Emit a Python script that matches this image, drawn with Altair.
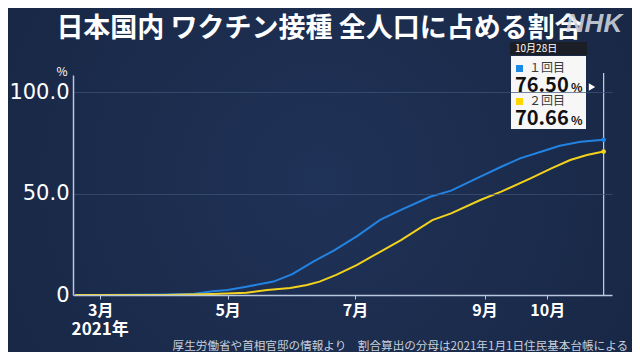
import altair as alt
import pandas as pd

# ---------------- data ----------------
series_names = ["1回目", "2回目"]
series_colors = ["#2383e2", "#f2d21c"]
square_colors = ["#1e88e5", "#ffd600"]

dates_dose1 = ["2021-02-17", "2021-03-01", "2021-04-01", "2021-04-15", "2021-04-24",
               "2021-05-01", "2021-05-10", "2021-05-23", "2021-06-01", "2021-06-11",
               "2021-06-21", "2021-07-02", "2021-07-13", "2021-07-23", "2021-08-06",
               "2021-08-16", "2021-08-30", "2021-09-09", "2021-09-18", "2021-09-28",
               "2021-10-07", "2021-10-17", "2021-10-28"]
values_dose1 = [0.0, 0.05, 0.3, 0.6, 1.8,
                2.5, 4.1, 6.6, 10.3, 16.4,
                22.0, 29.0, 37.0, 41.9, 48.4,
                51.4, 58.3, 63.2, 67.3, 70.6,
                73.5, 75.5, 76.50]

dates_dose2 = ["2021-02-17", "2021-03-01", "2021-04-01", "2021-04-24", "2021-05-10",
               "2021-05-20", "2021-05-31", "2021-06-08", "2021-06-14", "2021-06-22",
               "2021-07-02", "2021-07-13", "2021-07-23", "2021-08-07", "2021-08-16",
               "2021-08-30", "2021-09-09", "2021-09-23", "2021-10-03", "2021-10-12",
               "2021-10-20", "2021-10-28"]
values_dose2 = [0.0, 0.0, 0.05, 0.5, 1.1,
                2.5, 3.4, 4.9, 6.6, 9.9,
                14.8, 21.3, 27.0, 36.9, 40.2,
                46.8, 50.9, 57.5, 62.4, 66.5,
                69.0, 70.66]

tick_dates = [(2021, 3, 1), (2021, 5, 1), (2021, 7, 1), (2021, 9, 1), (2021, 10, 1)]
y_ticks = [0, 50, 100]
last_date = "2021-10-28"
last_label = "10月28日"
title_text = "日本国内 ワクチン接種 全人口に占める割合"
source_text = "厚生労働省や首相官邸の情報より　割合算出の分母は2021年1月1日住民基本台帳による"
year_label = "2021年"

FONT = "Noto Sans CJK JP"

# ---------------- tables ----------------
df = pd.concat([
    pd.DataFrame({"date": dates_dose1, "value": values_dose1, "series": series_names[0]}),
    pd.DataFrame({"date": dates_dose2, "value": values_dose2, "series": series_names[1]}),
])
last_df = pd.DataFrame({"date": [last_date, last_date],
                        "value": [values_dose1[-1], values_dose2[-1]],
                        "series": series_names})
one = pd.DataFrame({"a": [0]})

x_scale = alt.Scale(type="utc",
                    domain=[alt.DateTime(year=2021, month=2, date=16, utc=True),
                            alt.DateTime(year=2021, month=11, date=1, utc=True)])
y_scale = alt.Scale(domain=[0, 108.4], nice=False, zero=True)
color_scale = alt.Scale(domain=series_names, range=series_colors)

W, H = 539, 220

# background gradient covering the whole canvas
bg = alt.Chart(one).mark_rect(
    fill=alt.Gradient(gradient="radial",
                      stops=[alt.GradientStop(color="#1f3257", offset=0),
                             alt.GradientStop(color="#16233e", offset=1)],
                      x1=0.5, y1=0.5, x2=0.5, y2=0.5, r1=0, r2=0.8)
).encode(x=alt.value(-65), x2=alt.value(559), y=alt.value(-67), y2=alt.value(277))

lines = alt.Chart(df).mark_line(strokeWidth=2).encode(
    x=alt.X("date:T", scale=x_scale,
            axis=alt.Axis(values=[alt.DateTime(year=y, month=m, date=d, utc=True) for y, m, d in tick_dates],
                          labelExpr="(utcmonth(datum.value)+1) + '月'",
                          title=None, grid=False, labelFont=FONT, labelFontWeight="bold",
                          labelFontSize=16, labelColor="white", labelPadding=3,
                          domainColor="#b9c7dd", domainWidth=1.5,
                          tickColor="#b9c7dd", tickSize=4, zindex=1)),
    y=alt.Y("value:Q", scale=y_scale,
            axis=alt.Axis(values=y_ticks,
                          labelExpr="datum.value == 0 ? '0' : format(datum.value, '.1f')",
                          title=None, grid=True, gridColor="#3d5479", gridOpacity=0.7,
                          labelFont="DejaVu Sans", labelFontSize=21, labelColor="white",
                          labelPadding=4, ticks=False,
                          domainColor="#b9c7dd", domainWidth=1.5, zindex=1)),
    color=alt.Color("series:N", scale=color_scale, legend=None),
    detail="series:N",
)

cursor = alt.Chart(last_df.iloc[:1]).mark_rule(color="#c4d3ea", strokeWidth=1.2).encode(
    x=alt.X("date:T", scale=x_scale), y=alt.value(-2), y2=alt.value(H))

dots = alt.Chart(last_df).mark_circle(size=22, opacity=1).encode(
    x=alt.X("date:T", scale=x_scale), y=alt.Y("value:Q", scale=y_scale),
    color=alt.Color("series:N", scale=color_scale, legend=None))

# tooltip box
header = alt.Chart(one).mark_rect(fill="#1b1d22", opacity=0.92).encode(
    x=alt.value(437), x2=alt.value(514), y=alt.value(-33), y2=alt.value(-20))
box = alt.Chart(one).mark_rect(fill="#f7f7f7").encode(
    x=alt.value(438), x2=alt.value(513), y=alt.value(-19), y2=alt.value(54))
sq_df = pd.DataFrame({"series": series_names, "yy": [-10, 23], "c": square_colors})
squares = alt.Chart(sq_df).mark_rect().encode(
    x=alt.value(443), x2=alt.value(450), y=alt.Y("yy:Q", scale=None), y2=alt.Y2("y2:Q"),
    fill=alt.Fill("c:N", scale=None)).transform_calculate(y2="datum.yy + 7")
header_text = alt.Chart(one).mark_text(text=last_label, font=FONT, fontSize=10, color="white",
                                       align="left", baseline="middle").encode(
    x=alt.value(442), y=alt.value(-26))
lab_df = pd.DataFrame({"t": ["１回目", "２回目"], "yy": [-7.5, 25.5]})
labels = alt.Chart(lab_df).mark_text(font=FONT, fontSize=12, color="#3a3a3a",
                                     align="left", baseline="middle").encode(
    x=alt.value(456), y=alt.Y("yy:Q", scale=None), text="t:N")
num_df = pd.DataFrame({"t": [f"{values_dose1[-1]:.2f}", f"{values_dose2[-1]:.2f}"], "yy": [17, 50]})
nums = alt.Chart(num_df).mark_text(font=FONT, fontSize=20, fontWeight="bold", color="#111111",
                                   align="left", baseline="alphabetic").encode(
    x=alt.value(442), y=alt.Y("yy:Q", scale=None), text="t:N")
pct = alt.Chart(num_df).mark_text(text="%", font=FONT, fontSize=12, fontWeight="bold",
                                  color="#111111", align="left", baseline="alphabetic").encode(
    x=alt.value(498), y=alt.Y("yy:Q", scale=None))
tri = alt.Chart(one).mark_point(shape="triangle-right", filled=True, color="white",
                                size=55, opacity=1).encode(x=alt.value(519), y=alt.value(12))

# texts
title = alt.Chart(one).mark_text(text=title_text, font=FONT, fontSize=27, fontWeight="bold",
                                 color="white", align="center", baseline="middle").encode(
    x=alt.value(246), y=alt.value(-46.5))
nhk = alt.Chart(one).mark_text(text="NHK", font="Liberation Sans", fontSize=26, fontWeight="bold",
                               fontStyle="italic", color="#d6dbe3", opacity=0.85,
                               align="center", baseline="middle").encode(
    x=alt.value(521), y=alt.value(-51))
pct_axis = alt.Chart(one).mark_text(text="%", font=FONT, fontSize=12, color="white",
                                    align="center", baseline="middle").encode(
    x=alt.value(-11), y=alt.value(-3))
year_df = pd.DataFrame({"date": ["2021-03-01"], "t": [year_label]})
year = alt.Chart(year_df).mark_text(font=FONT, fontSize=17, fontWeight="bold", color="white",
                                    align="center", baseline="middle").encode(
    x=alt.X("date:T", scale=x_scale), y=alt.value(255), text="t:N")
source = alt.Chart(one).mark_text(text=source_text, font=FONT, fontSize=11.6, color="#c8d0dc",
                                  align="right", baseline="middle").encode(
    x=alt.value(555), y=alt.value(272))

chart = alt.layer(
    bg, lines, cursor, dots, header, box, squares, header_text, labels, nums, pct, tri,
    title, nhk, pct_axis, year, source
).properties(
    width=W, height=H,
    autosize=alt.AutoSizeParams(type="none"),
    padding={"left": 65, "top": 67, "right": 20, "bottom": 57},
    background="#17253f",
).configure_view(stroke=None)

chart.save("out.html", embed_options={"renderer": "svg", "actions": False})
